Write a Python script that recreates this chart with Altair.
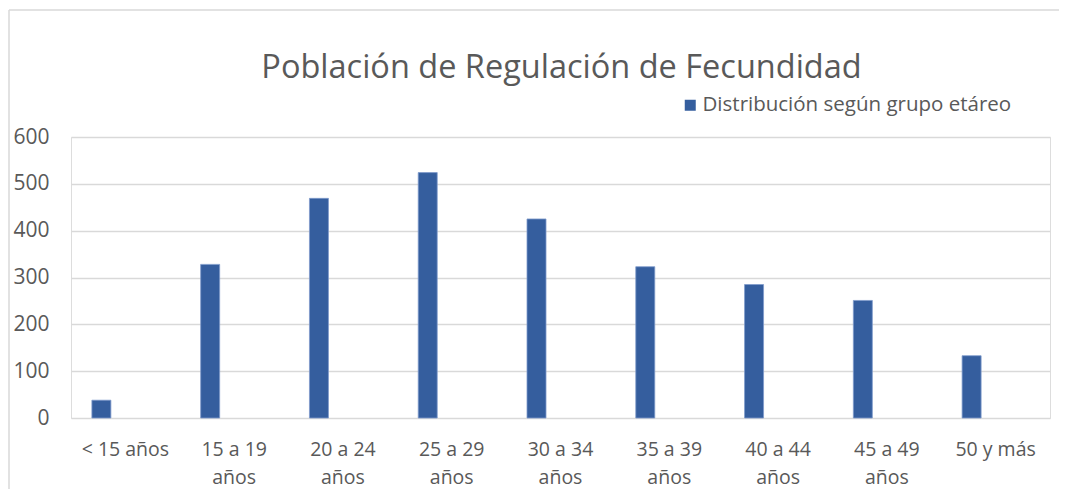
import altair as alt
import pandas as pd

categories = ["< 15 años", "15 a 19 años", "20 a 24 años", "25 a 29 años", "30 a 34 años",
              "35 a 39 años", "40 a 44 años", "45 a 49 años", "50 y más"]
values = [38, 328, 469, 524, 425, 323, 285, 251, 133]
series_name = "Distribución según grupo etáreo"
y_ticks = [0, 100, 200, 300, 400, 500, 600]
title_text = "Población de Regulación de Fecundidad"

df = pd.DataFrame({"grupo": categories, "valor": values, "serie": [series_name] * len(categories)})

W, H = 979, 281
FONT = "Open Sans"
GRAY = "#595959"
GRID = "#d9d9d9"
BLUE = "#355E9E"

bars = alt.Chart(df).mark_bar(size=19, xOffset=-24, stroke="#7F9BCB", strokeWidth=0.8).encode(
    x=alt.X("grupo:N", sort=categories,
            scale=alt.Scale(paddingInner=0, paddingOuter=0),
            axis=alt.Axis(title=None, labelAngle=0, domain=False, ticks=False, grid=False,
                          labelFont=FONT, labelFontSize=19.5, labelColor=GRAY,
                          labelPadding=22, labelLineHeight=28, labelBaseline="top",
                          labelExpr="length(datum.label) > 10 ? [substring(datum.label, 0, 7), 'años'] : datum.label")),
    y=alt.Y("valor:Q", scale=alt.Scale(domain=[0, 600], nice=False),
            axis=alt.Axis(title=None, values=y_ticks, domain=False, ticks=False,
                          grid=True, gridColor=GRID, gridWidth=1.3,
                          labelFont=FONT, labelFontSize=21, labelColor=GRAY, labelPadding=22)),
    color=alt.Color("serie:N", scale=alt.Scale(range=[BLUE]),
                    legend=alt.Legend(title=None, orient="none", legendX=609, legendY=-42,
                                      symbolType="square", symbolSize=121, symbolStrokeWidth=0,
                                      labelFont=FONT, labelFontSize=20.5, labelColor=GRAY,
                                      labelOffset=2, labelLimit=0))
)

one = pd.DataFrame({"a": [0]})
frame_top = alt.Chart(one).mark_rule(color=GRID, strokeWidth=1.5).encode(
    x=alt.value(-62), x2=alt.value(W + 80), y=alt.value(-127)
)
frame_left = alt.Chart(one).mark_rule(color=GRID, strokeWidth=1.5).encode(
    x=alt.value(-62), y=alt.value(-127), y2=alt.value(H + 100)
)

title = alt.Chart(pd.DataFrame({"t": [title_text]})).mark_text(
    font=FONT, fontSize=32.5, color=GRAY, align="center", baseline="alphabetic"
).encode(
    text="t:N", x=alt.value(W / 2 + 1), y=alt.value(-59)
)

chart = alt.layer(frame_top, frame_left, bars, title).properties(
    width=W, height=H,
    autosize=alt.AutoSizeParams(type="none"),
    padding={"left": 63, "top": 129, "right": 9, "bottom": 71},
).configure_view(stroke="transparent", strokeWidth=0).configure(background="white")

chart.save("out.html", embed_options={"renderer": "svg", "actions": False})
